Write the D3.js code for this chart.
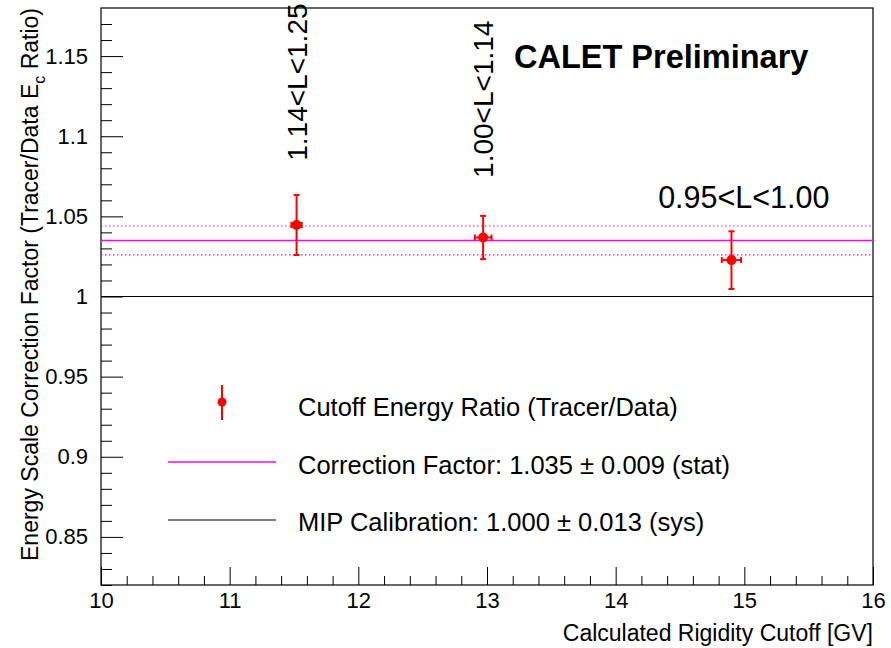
<!DOCTYPE html>
<html>
<head>
<meta charset="utf-8">
<script src="https://cdn.jsdelivr.net/npm/d3@7"></script>
<style>
  body { margin: 0; background: #fff; }
  text { font-family: "Liberation Sans", Arial, sans-serif; fill: #000; }
</style>
</head>
<body>
<svg id="chart" width="891" height="648"></svg>
<script>
// measured points (Tracer/Data cutoff energy ratio)
var cutoffX    = [11.52, 12.97, 14.90];
var cutoffXErr = [0.04, 0.065, 0.075];
var ratioY     = [1.0446, 1.0368, 1.0227];
var ratioYErr  = [0.0187, 0.0135, 0.0180];

var lShellLabels = ["1.14<L<1.25", "1.00<L<1.14", "0.95<L<1.00"];

var corrFactor = 1.035, corrStat = 0.009;
var mipCalib = 1.000;

var xTicks = [10, 11, 12, 13, 14, 15, 16];
var yTicks = [0.85, 0.9, 0.95, 1, 1.05, 1.1, 1.15];

var svg = d3.select("#chart");
var margin = {left: 101, right: 18, top: 8, bottom: 63};
var W = +svg.attr("width"), H = +svg.attr("height");
var pw = W - margin.left - margin.right,
    ph = H - margin.top - margin.bottom;

var x = d3.scaleLinear().domain([10, 16]).range([margin.left, margin.left + pw]);
var y = d3.scaleLinear().domain([0.82, 1.18]).range([margin.top + ph, margin.top]);

// frame
svg.append("rect")
    .attr("x", margin.left).attr("y", margin.top)
    .attr("width", pw).attr("height", ph)
    .attr("fill", "none").attr("stroke", "#000").attr("stroke-width", 1.2);

// axes, ROOT style ticks pointing inside
var xMinor = d3.range(10, 16.001, 0.2).filter(function(v){ return Math.abs(v - Math.round(v)) > 1e-6; });
var yMinor = d3.range(0.82, 1.18, 0.01).filter(function(v){ return Math.abs(v*20 - Math.round(v*20)) > 1e-6; });

svg.append("g")
    .attr("transform", "translate(0," + (margin.top + ph) + ")")
    .call(d3.axisTop(x).tickValues(xMinor).tickSize(9).tickFormat(""))
    .call(function(g){ g.select(".domain").remove(); });
var gx = svg.append("g")
    .attr("transform", "translate(0," + (margin.top + ph) + ")")
    .call(d3.axisTop(x).tickValues(xTicks).tickSize(18).tickFormat(d3.format("d")));
gx.select(".domain").remove();
gx.selectAll("text").attr("y", 7).attr("dy", "0.72em")
    .style("font-size", "22px");

svg.append("g")
    .attr("transform", "translate(" + margin.left + ",0)")
    .call(d3.axisRight(y).tickValues(yMinor).tickSize(11).tickFormat(""))
    .call(function(g){ g.select(".domain").remove(); });
var gy = svg.append("g")
    .attr("transform", "translate(" + margin.left + ",0)")
    .call(d3.axisRight(y).tickValues(yTicks).tickSize(22).tickFormat(function(d){ return String(+d.toFixed(2)); }));
gy.select(".domain").remove();
gy.selectAll("text").attr("x", -13).attr("text-anchor", "end")
    .style("font-size", "22px");
svg.selectAll(".tick line").attr("stroke", "#000");

// axis titles
svg.append("text")
    .attr("x", margin.left + pw).attr("y", 641)
    .attr("text-anchor", "end").style("font-size", "23px")
    .text("Calculated Rigidity Cutoff [GV]");

var yt = svg.append("text")
    .attr("transform", "translate(38," + margin.top + ") rotate(-90)")
    .attr("text-anchor", "end").style("font-size", "23px");
yt.append("tspan").text("Energy Scale Correction Factor (Tracer/Data E");
yt.append("tspan").attr("dy", 7).style("font-size", "16px").text("c");
yt.append("tspan").attr("dy", -7).text(" Ratio)");

// reference lines
var plot = svg.append("g");
plot.append("line")
    .attr("x1", x(10)).attr("x2", x(16))
    .attr("y1", y(mipCalib)).attr("y2", y(mipCalib))
    .attr("stroke", "#000").attr("stroke-width", 1);
plot.append("line")
    .attr("x1", x(10)).attr("x2", x(16))
    .attr("y1", y(corrFactor)).attr("y2", y(corrFactor))
    .attr("stroke", "#ff00ff").attr("stroke-width", 1.5);
[corrFactor + corrStat, corrFactor - corrStat].forEach(function(v){
    plot.append("line")
        .attr("x1", x(10)).attr("x2", x(16))
        .attr("y1", y(v)).attr("y2", y(v))
        .attr("stroke", "#ff00ff").attr("stroke-width", 1.2)
        .attr("stroke-dasharray", "1.5,2.5");
});

// data points with error bars
var pts = cutoffX.map(function(d, i){
    return {x: d, ex: cutoffXErr[i], y: ratioY[i], ey: ratioYErr[i]};
});
var pg = plot.selectAll(".pt").data(pts).enter().append("g").attr("class", "pt");
pg.append("line")
    .attr("x1", function(d){ return x(d.x); }).attr("x2", function(d){ return x(d.x); })
    .attr("y1", function(d){ return y(d.y + d.ey); }).attr("y2", function(d){ return y(d.y - d.ey); })
    .attr("stroke", "red").attr("stroke-width", 2);
pg.append("line")
    .attr("x1", function(d){ return x(d.x - d.ex); }).attr("x2", function(d){ return x(d.x + d.ex); })
    .attr("y1", function(d){ return y(d.y); }).attr("y2", function(d){ return y(d.y); })
    .attr("stroke", "red").attr("stroke-width", 2);
[1, -1].forEach(function(s){
    pg.append("line")
        .attr("x1", function(d){ return x(d.x) - 3; }).attr("x2", function(d){ return x(d.x) + 3; })
        .attr("y1", function(d){ return y(d.y + s*d.ey); }).attr("y2", function(d){ return y(d.y + s*d.ey); })
        .attr("stroke", "red").attr("stroke-width", 2);
    pg.append("line")
        .attr("x1", function(d){ return x(d.x + s*d.ex); }).attr("x2", function(d){ return x(d.x + s*d.ex); })
        .attr("y1", function(d){ return y(d.y) - 3; }).attr("y2", function(d){ return y(d.y) + 3; })
        .attr("stroke", "red").attr("stroke-width", 2);
});
pg.append("circle")
    .attr("cx", function(d){ return x(d.x); }).attr("cy", function(d){ return y(d.y); })
    .attr("r", 5).attr("fill", "red");

// L-shell labels
svg.append("text")
    .attr("transform", "translate(" + (x(cutoffX[0]) + 10) + "," + y(1.0847) + ") rotate(-90)")
    .style("font-size", "28px").text(lShellLabels[0]);
svg.append("text")
    .attr("transform", "translate(" + (x(cutoffX[1]) + 10) + "," + y(1.074) + ") rotate(-90)")
    .style("font-size", "28px").text(lShellLabels[1]);
svg.append("text")
    .attr("x", x(14.33)).attr("y", y(1.055))
    .style("font-size", "30.5px").text(lShellLabels[2]);

svg.append("text")
    .attr("x", x(13.21)).attr("y", y(1.1426))
    .style("font-size", "32.5px").style("font-weight", "bold")
    .text("CALET Preliminary");

// legend
var leg = svg.append("g");
leg.append("line").attr("x1", 222).attr("x2", 222).attr("y1", 385).attr("y2", 420)
    .attr("stroke", "red").attr("stroke-width", 2);
leg.append("circle").attr("cx", 222).attr("cy", 402).attr("r", 4.5).attr("fill", "red");
leg.append("line").attr("x1", 168).attr("x2", 276).attr("y1", 462).attr("y2", 462)
    .attr("stroke", "#ff00ff").attr("stroke-width", 1.5);
leg.append("line").attr("x1", 168).attr("x2", 276).attr("y1", 520).attr("y2", 520)
    .attr("stroke", "#000").attr("stroke-width", 1);
var legText = [
    "Cutoff Energy Ratio (Tracer/Data)",
    "Correction Factor: " + corrFactor.toFixed(3) + " \u00b1 " + corrStat.toFixed(3) + " (stat)",
    "MIP Calibration: " + mipCalib.toFixed(3) + " \u00b1 0.013 (sys)"
];
legText.forEach(function(t, i){
    leg.append("text").attr("x", 298).attr("y", 416 + i*57.5)
        .style("font-size", "25.5px").text(t);
});
</script>
</body>
</html>
